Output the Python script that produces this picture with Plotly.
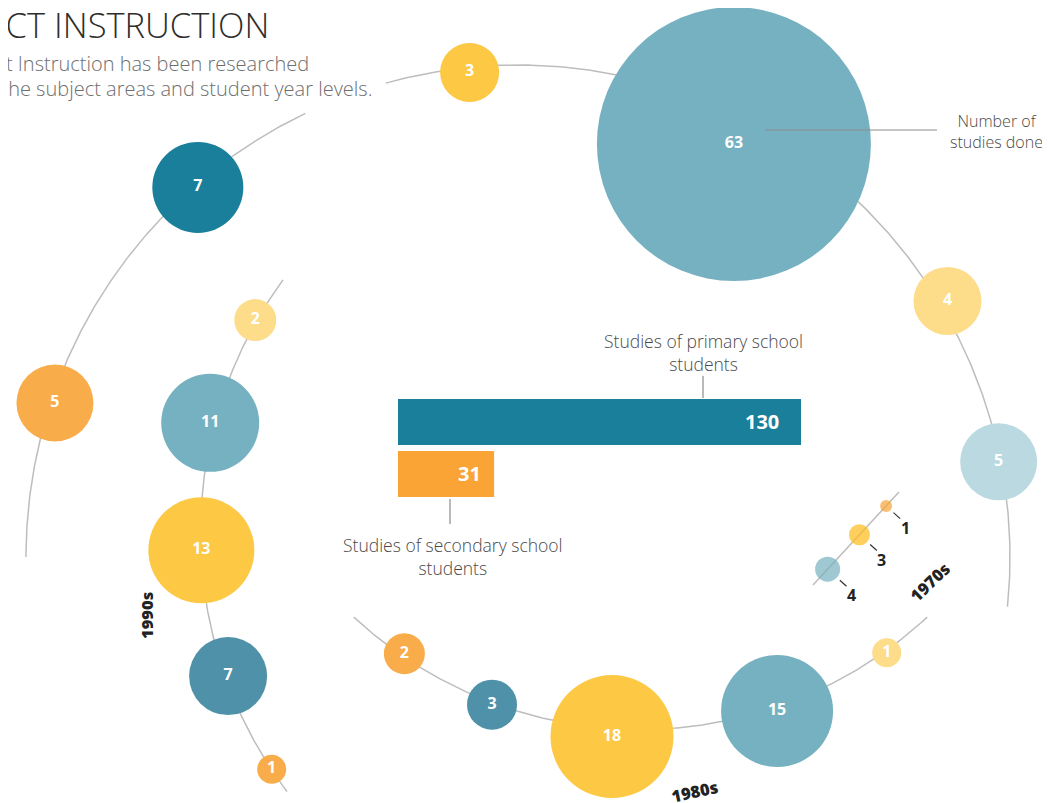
import numpy as np
import plotly.graph_objects as go

# ------------------------- data -------------------------
DECADE_LABELS = ["1970s", "1980s", "1990s"]
STUDIES_1970S = [1, 3, 4]
STUDIES_1980S = [2, 3, 18, 15, 1]
STUDIES_1990S = [2, 11, 13, 7, 1]
STUDIES_LATER = [5, 7, 3, 63, 4, 5]
SCHOOL_LEVELS = ["Studies of primary school<br>students",
                 "Studies of secondary school<br>students"]
SCHOOL_STUDIES = [130, 31]

TITLE = "DIRECT INSTRUCTION"
SUBTITLE_1 = "Direct Instruction has been researched"
SUBTITLE_2 = "across the subject areas and student year levels."
SIZE_NOTE = "Number of<br>studies done"

# ------------------------- style / layout -------------------------
W, H = 1050, 803
OFF = 8  # the page body margin shifts the figure by 8px; compensate in the axis ranges
ORANGE = "#F9AC4A"
ORANGE_BAR = "#F9A435"
DARK_TEAL = "#1A7F9A"
LIGHT_TEAL = "#76B1C1"
STEEL = "#5091AA"
ICE = "#BBD9E1"
YELLOW = "#FDC843"
PALE = "#FDDC8A"
GOLD = "#FDBA18"
ARC_COLOR = "#BDBDBD"
FONT = "Open Sans"

C_LATER = [ORANGE, DARK_TEAL, YELLOW, LIGHT_TEAL, PALE, ICE]
C_80 = [ORANGE, STEEL, YELLOW, LIGHT_TEAL, PALE]
C_90 = [PALE, LIGHT_TEAL, YELLOW, STEEL, ORANGE]
C_70 = [ORANGE_BAR, GOLD, LIGHT_TEAL]

# bubble diameters (px)
D_LATER = [77, 91, 59, 274, 68, 77]
D_80 = [41, 50, 123, 112, 29]
D_90 = [42, 98, 106, 78, 29]
D_70 = [12, 21, 25]

# arc geometry (centre, radius, drawn angular segments in degrees)
ARC_LATER = dict(cx=518, cy=557, r=492, segs=[(-5.8, 105.6), (115.6, 180.0)])
ARC_80 = dict(cx=640.5, cy=307.5, r=422, segs=[(-132.8, -47.2)])
ARC_90 = dict(cx=630, cy=533, r=429.5, segs=[(143.9, 217.0)])
# placement of each bubble along its arc: (angle deg, ring radius)
PL_LATER = [(161.6, 488), (130.9, 489), (95.7, 487), (62.4, 466), (30.8, 500), (11.2, 490)]
PL_80 = [(-124.3, 419), (-110.5, 424), (-93.8, 430), (-71.3, 426), (-54.5, 424)]
PL_90 = [(150.4, 431), (165.3, 434), (182.3, 429), (199.6, 426.6), (213.4, 429.2)]
# 1970s: straight segment and fractional positions along it
SEG_70 = ((899, 492), (813, 585))
T_70 = [0.15, 0.46, 0.83]


def polar(cx, cy, ang, rad):
    a = np.radians(ang)
    return cx + rad * np.cos(a), cy - rad * np.sin(a)


fig = go.Figure()

# arcs
for arc in (ARC_LATER, ARC_80, ARC_90):
    for a0, a1 in arc["segs"]:
        ang = np.linspace(a0, a1, 300)
        xs, ys = polar(arc["cx"], arc["cy"], ang, arc["r"])
        fig.add_trace(go.Scatter(x=xs, y=ys, mode="lines",
                                 line=dict(color=ARC_COLOR, width=1.5),
                                 hoverinfo="skip", showlegend=False))
(x0, y0), (x1, y1) = SEG_70
fig.add_trace(go.Scatter(x=[x0, x1], y=[y0, y1], mode="lines",
                         line=dict(color=ARC_COLOR, width=1.5),
                         hoverinfo="skip", showlegend=False))


def add_bubbles(arc, places, values, colors, diam):
    xs, ys = [], []
    for ang, rad in places:
        x, y = polar(arc["cx"], arc["cy"], ang, rad)
        xs.append(x)
        ys.append(y)
    fig.add_trace(go.Scatter(
        x=xs, y=ys, mode="markers+text", text=[str(v) for v in values],
        textposition="middle center",
        textfont=dict(color="white", size=16, family=FONT, weight=700),
        marker=dict(size=diam, color=colors, line=dict(width=0), opacity=1),
        hoverinfo="skip", showlegend=False, cliponaxis=False))


add_bubbles(ARC_LATER, PL_LATER, STUDIES_LATER, C_LATER, D_LATER)
add_bubbles(ARC_80, PL_80, STUDIES_1980S, C_80, D_80)
add_bubbles(ARC_90, PL_90, STUDIES_1990S, C_90, D_90)

# 1970s bubbles on the short segment
x70 = [x0 + t * (x1 - x0) for t in T_70]
y70 = [y0 + t * (y1 - y0) for t in T_70]
fig.add_trace(go.Scatter(x=x70, y=y70, mode="markers",
                         marker=dict(size=D_70, color=C_70, line=dict(width=0)),
                         hoverinfo="skip", showlegend=False, cliponaxis=False))

shapes = []
annotations = []
# 1970s ticks and labels
dx, dy = 0.74, 0.67
for x, y, d, v in zip(x70, y70, D_70, STUDIES_1970S):
    s = d / 2 + 4
    e = s + 9
    shapes.append(dict(type="line", xref="x", yref="y",
                       x0=x + dx * s, y0=y + dy * s, x1=x + dx * e, y1=y + dy * e,
                       line=dict(color="#333333", width=1.2)))
    annotations.append(dict(x=x + dx * e + 5, y=y + dy * e + 9, xref="x", yref="y",
                            text=str(v), showarrow=False,
                            font=dict(size=16, color="#222222", family=FONT, weight=700)))

# decade labels
for lab, (lx, ly, ta) in zip(DECADE_LABELS, [(929, 582, -44), (694, 791, -12), (146, 616, -90)]):
    annotations.append(dict(x=lx, y=ly, xref="x", yref="y", text=lab, showarrow=False,
                            textangle=ta,
                            font=dict(size=16.5, color="#222222", family=FONT, weight=800)))

# title + subtitle
annotations.append(dict(x=271, y=24, xref="x", yref="y", text=TITLE, showarrow=False,
                        xanchor="right", yanchor="middle",
                        font=dict(size=34.5, color="#2E2E2E", family=FONT, weight=300)))
annotations.append(dict(x=311, y=63, xref="x", yref="y", text=SUBTITLE_1, showarrow=False,
                        xanchor="right", yanchor="middle",
                        font=dict(size=20, color="#6E6E6E", family=FONT, weight=300)))
annotations.append(dict(x=374, y=88, xref="x", yref="y", text=SUBTITLE_2, showarrow=False,
                        xanchor="right", yanchor="middle",
                        font=dict(size=20, color="#6E6E6E", family=FONT, weight=300)))

# size note callout
shapes.append(dict(type="line", xref="x", yref="y", x0=765, y0=130, x1=937, y1=130,
                   line=dict(color="#8C8C8C", width=1.2)))
annotations.append(dict(x=996, y=131, xref="x", yref="y", text=SIZE_NOTE, showarrow=False,
                        align="center", xanchor="center", yanchor="middle",
                        font=dict(size=16, color="#4A4A4A", family=FONT, weight=300)))

# ---------------- bar chart (primary vs secondary) ----------------
PX_PER_STUDY = 3.1
BAR_LEFT = 398 - OFF
fig.add_trace(go.Bar(
    x=SCHOOL_STUDIES, y=[0, 1], orientation="h",
    marker=dict(color=[DARK_TEAL, ORANGE_BAR], line=dict(width=0)),
    xaxis="x2", yaxis="y2", hoverinfo="skip", showlegend=False))
for i, (v, sh) in enumerate(zip(SCHOOL_STUDIES, [-20, -11])):
    annotations.append(dict(x=v, y=i, xref="x2", yref="y2", text=str(v), showarrow=False,
                            xanchor="right", yanchor="middle", xshift=sh,
                            font=dict(size=20, color="white", family=FONT, weight=700)))
# bar labels with leader lines
annotations.append(dict(x=703, y=352, xref="x", yref="y", text=SCHOOL_LEVELS[0],
                        showarrow=False, align="center",
                        font=dict(size=17.5, color="#4A4A4A", family=FONT, weight=300)))
annotations.append(dict(x=453, y=556, xref="x", yref="y", text=SCHOOL_LEVELS[1],
                        showarrow=False, align="center",
                        font=dict(size=17.5, color="#4A4A4A", family=FONT, weight=300)))
shapes.append(dict(type="line", xref="x", yref="y", x0=703, y0=376, x1=703, y1=398,
                   line=dict(color="#8C8C8C", width=1.2)))
shapes.append(dict(type="line", xref="x", yref="y", x0=450, y0=499, x1=450, y1=524,
                   line=dict(color="#8C8C8C", width=1.2)))

fig.update_layout(
    width=W, height=H,
    margin=dict(l=0, r=0, t=0, b=0),
    paper_bgcolor="white", plot_bgcolor="rgba(0,0,0,0)",
    showlegend=False, bargap=0.115,
    xaxis=dict(range=[OFF, W + OFF], visible=False, fixedrange=True, domain=[0, 1]),
    yaxis=dict(range=[H + OFF, OFF], visible=False, fixedrange=True, domain=[0, 1]),
    xaxis2=dict(domain=[BAR_LEFT / W, 1], range=[0, (W - BAR_LEFT) / PX_PER_STUDY],
                anchor="y2", visible=False, fixedrange=True),
    yaxis2=dict(domain=[1 - (500 - OFF) / H, 1 - (396 - OFF) / H], range=[1.5, -0.5],
                anchor="x2", visible=False, fixedrange=True),
    shapes=shapes, annotations=annotations,
)

fig.write_html("out.html")
